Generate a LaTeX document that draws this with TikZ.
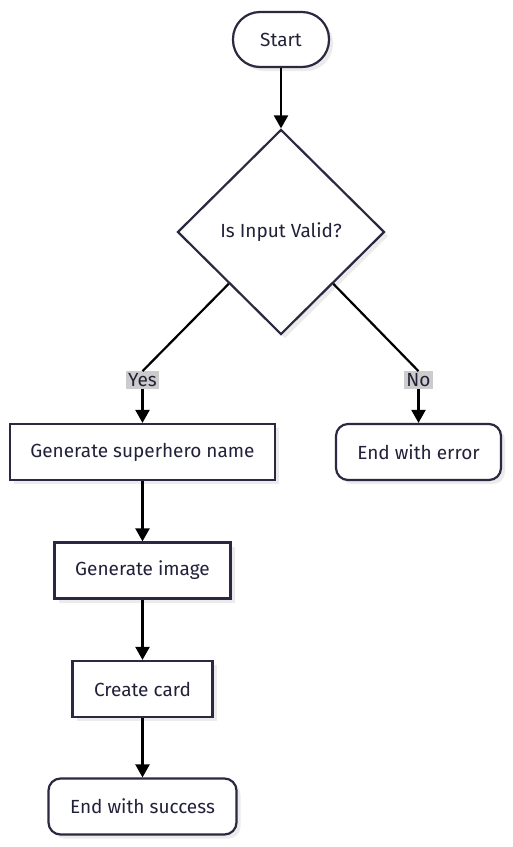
\documentclass[tikz,border=0pt]{standalone}
\usepackage{fontspec}
\setmainfont{Fira Sans}
\usetikzlibrary{shapes.geometric,arrows.meta,shadows,calc}
\definecolor{edgec}{HTML}{2A2942}
\definecolor{txt}{HTML}{22213A}
\definecolor{lblbg}{HTML}{CCCCCC}
\tikzset{
  base/.style={draw=edgec,line width=2.2pt,fill=white,text=txt,font=\fontsize{19}{22}\selectfont,
    drop shadow={shadow xshift=4pt,shadow yshift=-4pt,fill=black!8,opacity=1}},
  proc/.style={base,rectangle,minimum height=56pt,inner sep=0pt},
  term/.style={base,rectangle,rounded corners=12pt,minimum height=56pt,inner sep=0pt},
  startc/.style={base,rectangle,rounded corners=27pt,minimum height=55pt,minimum width=96pt,inner sep=0pt},
  dec/.style={base,diamond,minimum width=207pt,minimum height=205pt,inner sep=0pt},
  conn/.style={line width=2.2pt,draw=black},
  arr/.style={conn,-{Triangle[length=13pt,width=14pt]}},
  lbl/.style={fill=lblbg,text=txt,font=\fontsize{19}{22}\selectfont,inner sep=2pt}
}
\begin{document}
\begin{tikzpicture}[x=1pt,y=-1pt]
\useasboundingbox (0,0) rectangle (512,847);
\node[startc] (start) at (281,39.5) {Start};
\node[dec] (valid) at (281,232) {Is Input Valid?};
\node[proc,minimum width=265pt] (name) at (142.5,452) {Generate superhero name};
\node[term,minimum width=165pt] (err) at (418.5,452) {End with error};
\node[proc,minimum width=176pt] (img) at (142.5,570.5) {Generate image};
\node[proc,minimum width=140pt] (card) at (142.5,689) {Create card};
\node[term,minimum width=188pt] (succ) at (142.5,806.5) {End with success};
\node[lbl] (yes) at (142.5,380) {Yes};
\node[lbl] (no) at (418.5,380) {No};
\coordinate (vl) at ($(valid.west)!0.5!(valid.south)$);
\coordinate (vr) at ($(valid.east)!0.5!(valid.south)$);
\draw[arr] (start) -- (valid);
\draw[conn] (vl) -- (yes.north);
\draw[arr] (yes.south) -- (name.north);
\draw[conn] (vr) -- (no.north);
\draw[arr] (no.south) -- (err.north);
\draw[arr] (name) -- (img);
\draw[arr] (img) -- (card);
\draw[arr] (card) -- (succ);
\end{tikzpicture}
\end{document}
